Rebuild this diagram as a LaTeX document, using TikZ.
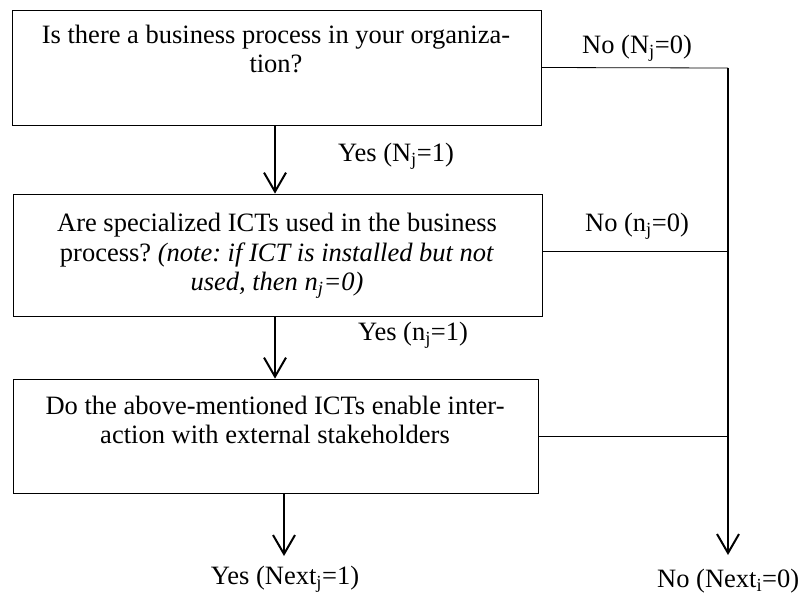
\documentclass[tikz,border=0pt]{standalone}
\usepackage{fontspec}
\setmainfont{Liberation Serif}
\usetikzlibrary{arrows.meta}
\frenchspacing

\begin{document}
\begin{tikzpicture}[x=1pt, y=-1pt,
  every node/.style={font=\fontsize{26.5}{29.5}\selectfont},
  box/.style={draw, line width=0.8pt, inner sep=0pt},
  question/.style={align=center, inner sep=0pt},
  answer/.style={inner sep=0pt},
  flow/.style={-{Straight Barb[length=19pt, width=22pt, line width=2pt]}, line width=1.8pt}]
\useasboundingbox (0,0) rectangle (799,595);

\node (B1) at (276.5, 67.5) [box, minimum width=529pt, minimum height=115pt] {};
\node (B2) at (277.5, 255) [box, minimum width=529pt, minimum height=122pt] {};
\node (B3) at (275.5, 436) [box, minimum width=525pt, minimum height=114pt] {};

\node (Q1) at (276, 49) [question] {Is there a business process in your organiza-\\tion?};
\node (Q2) at (277, 256) [question] {Are specialized ICTs used in the business\\process? \textit{(note: if ICT is installed but not}\\\textit{used, then n\textsubscript{j}=0)}};
\node (Q3) at (275, 420) [question] {Do the above-mentioned ICTs enable inter-\\action with external stakeholders};

\coordinate (R) at (728, 68);
\coordinate (NoEnd) at (728, 555);
\coordinate (YesEnd) at (284, 556);

\draw[line width=0.8pt] (B1.east) to (R);
\draw[line width=0.8pt] ([yshift=4pt]B2.east) to ([yshift=4pt]B2.east -| R);
\draw[line width=0.8pt] (B3.east) to (B3.east -| R);
\draw[flow, line width=2.5pt] (R) to (NoEnd);

\draw[flow] (B1.south -| 275,0) to (B2.north -| 275,0);
\draw[flow] (B2.south -| 275,0) to (B3.north -| 275,0);
\draw[flow] (B3.south -| YesEnd) to (YesEnd);

\node (N1) at (637, 48) [answer] {No (N\textsubscript{j}=0)};
\node (Y1) at (396, 156) [answer] {Yes (N\textsubscript{j}=1)};
\node (N2) at (637, 226) [answer] {No (n\textsubscript{j}=0)};
\node (Y2) at (413, 335) [answer] {Yes (n\textsubscript{j}=1)};
\node (Y3) at (285, 579) [answer] {Yes (Next\textsubscript{j}=1)};
\node (N3) at (657, 581) [answer, anchor=west] {No (Next\textsubscript{i}=0)};
\end{tikzpicture}
\end{document}
